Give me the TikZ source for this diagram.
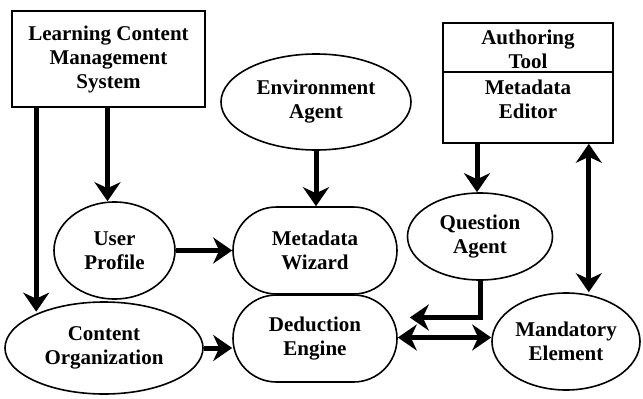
\documentclass[tikz,border=0pt]{standalone}
\usepackage{fontspec}
\setmainfont{Liberation Serif}
\usetikzlibrary{shapes.geometric,shapes.misc,arrows.meta}
\begin{document}
\begin{tikzpicture}[x=1pt,y=-1pt,
  lbl/.style={font=\bfseries\fontsize{21}{24}\selectfont,align=center},
  ell/.style={lbl,draw,line width=1.6pt,ellipse,inner sep=0pt},
  stad/.style={lbl,draw,line width=1.6pt,rounded rectangle,inner sep=0pt,minimum width=164pt,minimum height=87pt},
  boxx/.style={draw,line width=1.6pt,rectangle,inner sep=0pt},
  arr/.style={line width=5pt,arrows={-Stealth[length=19pt,width=26pt,inset=6pt]}},
  dbl/.style={line width=5pt,arrows={Stealth[length=19pt,width=26pt,inset=6pt]-Stealth[length=19pt,width=26pt,inset=6pt]}}]
\path[use as bounding box,fill=white] (0,0) rectangle (643,399);

\node[boxx,lbl,minimum width=193pt,minimum height=96pt] (lcms) at (108.5,59) {Learning Content\\Management\\System};
\node[boxx,minimum width=170pt,minimum height=49pt] (at) at (528,47.5) {};
\node[lbl] (attext) at (528,49) {Authoring\\Tool};
\node[boxx,minimum width=170pt,minimum height=71pt] (edbox) at (528,107.5) {};
\node[lbl] (edtext) at (528,99.5) {Metadata\\Editor};

\node[ell,minimum width=190pt,minimum height=96pt] (ea) at (316,102) {Environment\\Agent};
\node[ell,minimum width=121pt,minimum height=97pt] (up) at (114.5,250.5) {User\\Profile};
\node[ell,minimum width=198pt,minimum height=92pt] (co) at (104,348) {Content\\Organization};
\node[ell,minimum width=145pt,minimum height=87pt] (qa) at (480,236.5) {Question\\Agent};
\node[ell,minimum width=148pt,minimum height=97pt] (ma) at (566,341.5) {Mandatory\\Element};
\node[stad] (mw) at (315,250.5) {Metadata\\Wizard};
\node[stad] (de) at (315,338.5) {Deduction\\Engine};

\draw[arr] ([xshift=25pt]lcms.south west) -- ([xshift=25pt]lcms.south west |- co.150);
\draw[arr] ([xshift=-1pt]lcms.south) -- ([xshift=-1pt]lcms.south |- up.north);
\draw[arr] (up.east) -- (mw.west);
\draw[arr] (co.east) -- (co.east -| de.west);
\draw[arr] (ea.south) -- (ea.south |- mw.north);
\draw[arr] ([xshift=-51pt]edbox.south) -- ([xshift=-51pt]edbox.south |- qa.north);
\draw[arr,shorten >=12pt] (qa.south) |- ([yshift=21pt]de.east);
\draw[dbl] ([yshift=1pt]de.east) -- ([yshift=1pt]de.east -| ma.west);
\draw[dbl] ([xshift=-25pt]edbox.south east) -- ([xshift=-25pt]edbox.south east |- ma.north);
\end{tikzpicture}
\end{document}
